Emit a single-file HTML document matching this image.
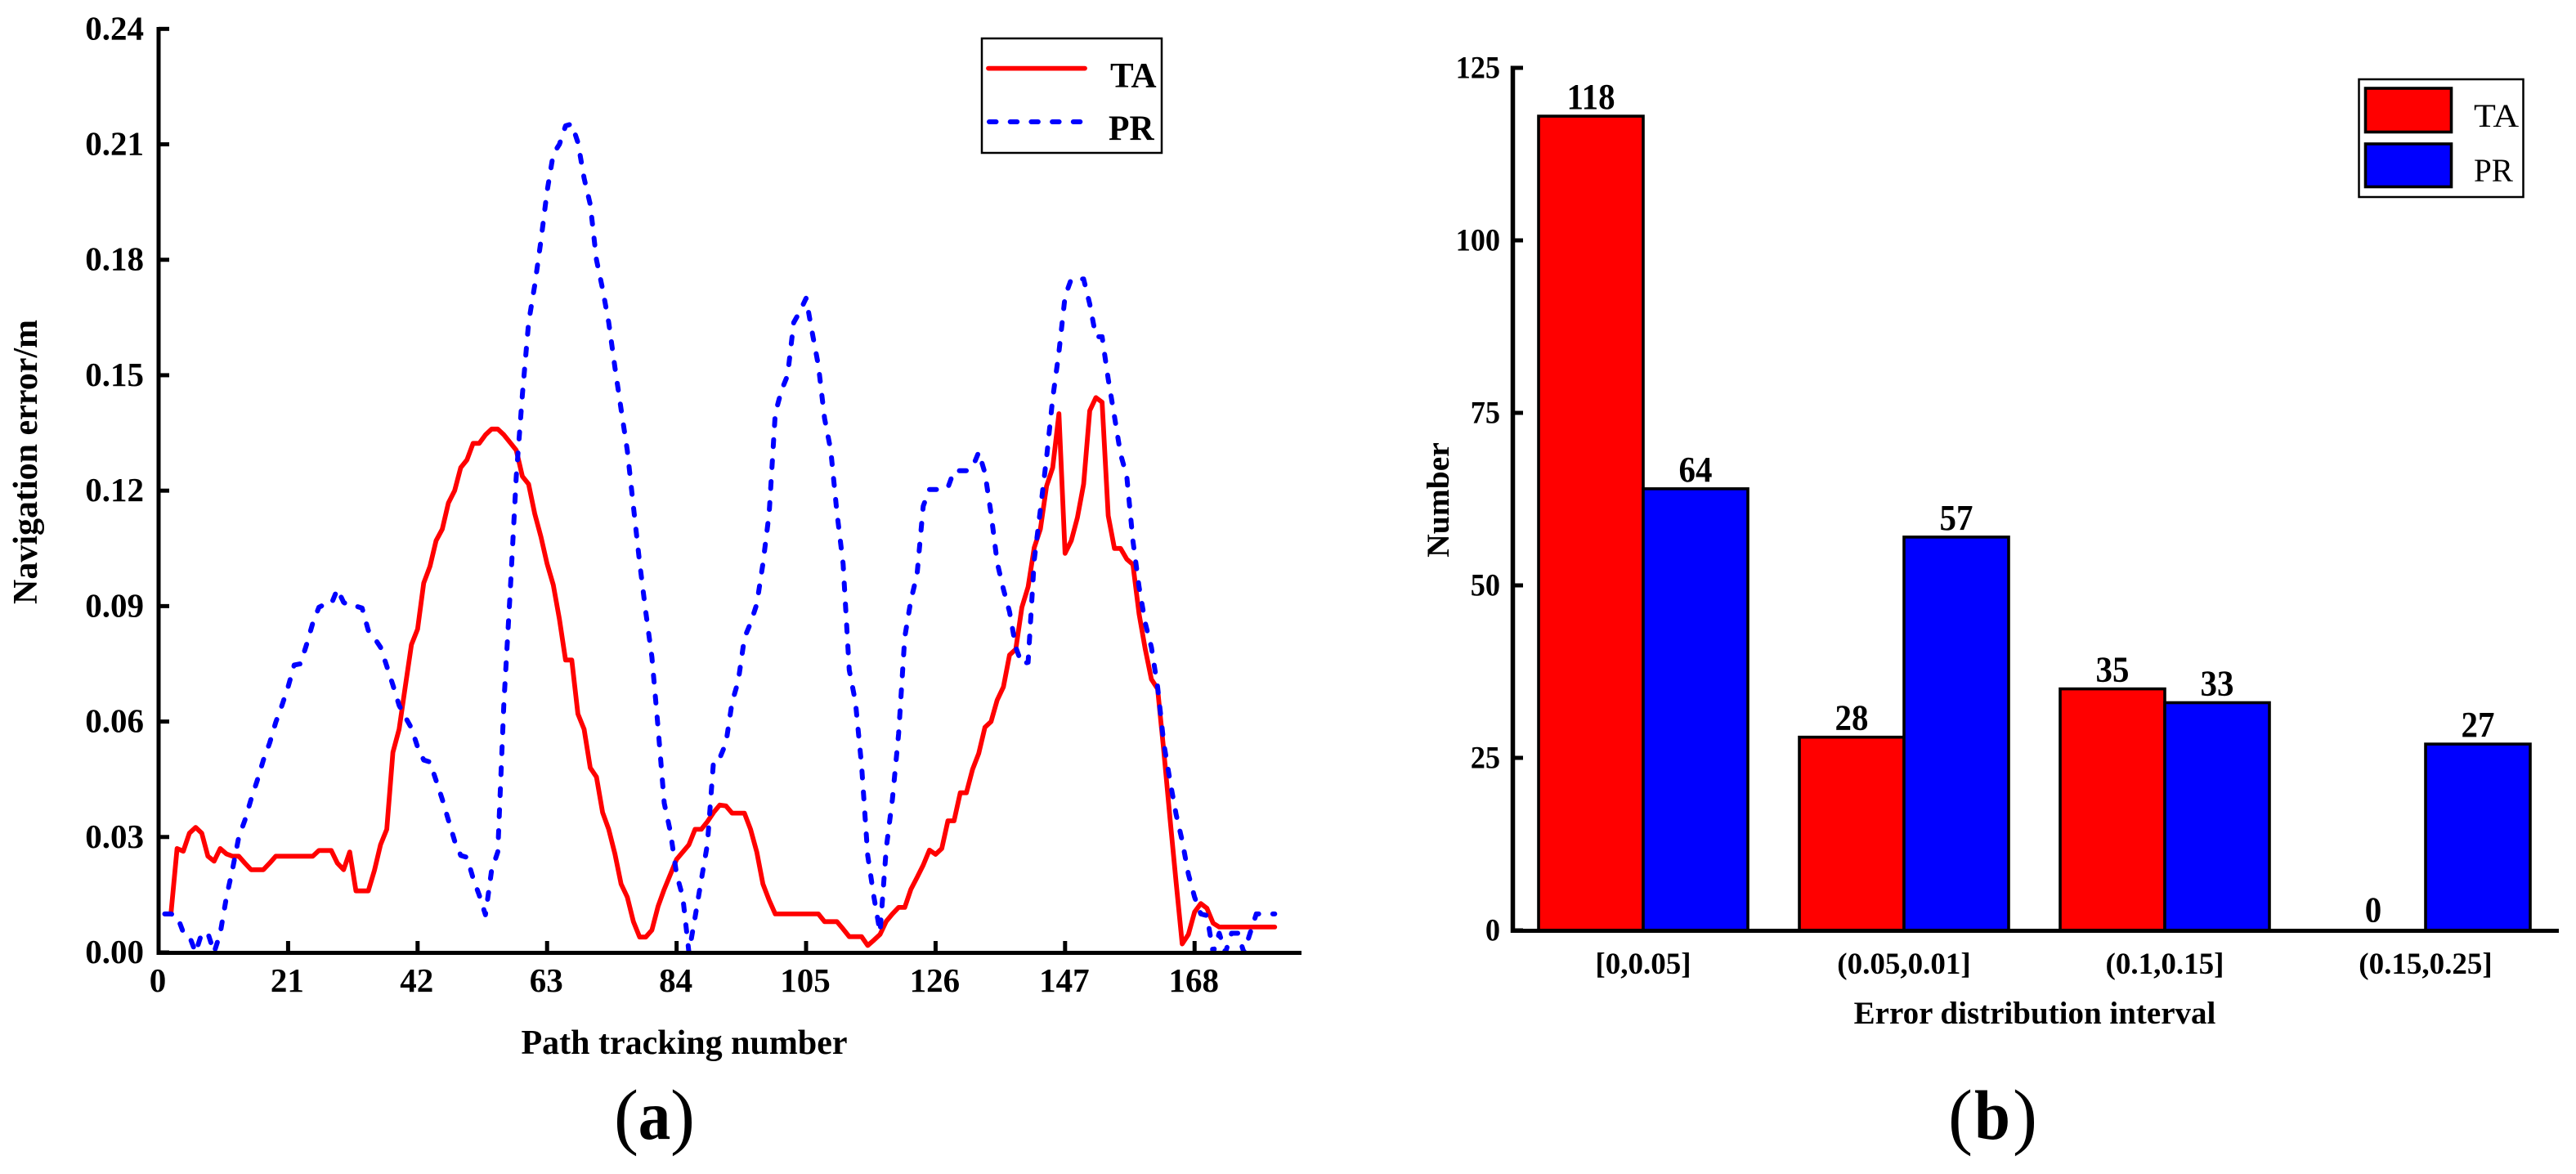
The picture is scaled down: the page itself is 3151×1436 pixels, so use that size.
<!DOCTYPE html>
<html lang="en">
<head>
<meta charset="utf-8">
<title>Navigation error and error distribution</title>
<style>
html,body{margin:0;padding:0;background:#fff;}
svg{display:block;}
text{font-family:"Liberation Serif",serif;fill:#000;}
</style>
</head>
<body>
<svg id="figure" xmlns="http://www.w3.org/2000/svg" width="3151" height="1436" viewBox="0 0 3151 1436"></svg>
<script>
/* Panel (a) data: index 1..181 */
const taValues = [
.010,.010,.027,.0263,.031,.0325,.031,.025,.0237,.027,
.0256,.025,.025,.0232,.0215,.0215,.0215,.0232,.025,.025,
.025,.025,.025,.025,.025,.0265,.0265,.0265,.0232,.0215,
.0261,.016,.016,.016,.0213,.028,.032,.052,.058,.069,
.080,.084,.096,.1003,.107,.110,.1168,.120,.126,.128,
.1323,.1323,.1345,.136,.136,.1345,.1325,.1305,.1237,.1217,
.114,.108,.101,.0955,.0866,.076,.076,.062,.058,.048,
.0456,.0364,.032,.0256,.0178,.0144,.008,.004,.004,.0058,
.012,.0164,.0203,.0242,.0261,.028,.032,.032,.034,.0364,
.0383,.0381,.0362,.0362,.0362,.032,.0261,.0178,.0136,.010,
.01,.01,.01,.01,.01,.01,.01,.008,.008,.008,
.0061,.0041,.0041,.0041,.0018,.0032,.0047,.0081,.01,.0117,
.0117,.0164,.0195,.0227,.0266,.0255,.027,.0342,.0342,.0415,
.0415,.0476,.0517,.0585,.06,.0656,.069,.0773,.0788,.0897,
.095,.1052,.11,.1212,.126,.14,.1037,.107,.113,.1217,
.1408,.1442,.143,.1135,.105,.105,.1022,.1008,.088,.0788,
.071,.0685,.0525,.035,.0183,.0022,.0047,.0105,.0127,.0115,
.0076,.0066,.0066,.0066,.0066,.0066,.0066,.0066,.0066,.0066,.0066
];
const prValues = [
.01,.01,.0095,.0052,.0042,0,.005,.005,0,.005,
.0144,.0217,.03,.0344,.0398,.0447,.05,.0544,.0598,.0642,
.069,.0747,.075,.08,.0856,.0897,.0905,.0905,.0944,.091,
.09,.09,.0895,.0837,.0817,.0793,.0744,.0695,.0642,.0612,
.0583,.0534,.05,.0495,.0447,.0398,.0344,.029,.0252,.0247,
.0193,.0149,.0098,.0213,.0261,.065,.0934,.1237,.145,.1637,
.1734,.185,.1978,.2075,.21,.2148,.2153,.2105,.2012,.1944,
.18,.1724,.1637,.152,.1412,.1305,.1159,.1013,.0885,.0768,
.0583,.0388,.0313,.0203,.0144,0,.0091,.0188,.0281,.05,
.0505,.0544,.065,.0705,.0817,.0856,.0905,.101,.114,.14,
.146,.15,.1637,.1666,.17,.161,.1525,.1388,.1305,.1144,
.101,.0734,.0651,.0486,.0252,.0144,.0052,.0271,.0398,.0568,
.0819,.0915,.0983,.116,.1203,.1203,.1203,.1208,.1252,.1252,
.1252,.1261,.13,.1246,.114,.1013,.0944,.0885,.0793,.0749,
.0754,.102,.115,.1286,.144,.156,.1705,.175,.175,.175,
.1685,.16,.16,.149,.1393,.1295,.1237,.107,.095,.0856,
.0793,.069,.0544,.0447,.0359,.029,.0203,.0144,.01,.0096,
0,.005,0,.005,.005,0,.005,.01,.01,.01,.01
];
const aXTicks = [0,21,42,63,84,105,126,147,168];
const aYTicks = ["0.00","0.03","0.06","0.09","0.12","0.15","0.18","0.21","0.24"];

/* Panel (b) data */
const bCategories = ["[0,0.05]","(0.05,0.01]","(0.1,0.15]","(0.15,0.25]"];
const bTA = [118,28,35,0];
const bPR = [64,57,33,27];
const bYTicks = [0,25,50,75,100,125];

const NS = "http://www.w3.org/2000/svg";
const svg = document.getElementById("figure");
function make(tag, attrs, parent){
  const el = document.createElementNS(NS, tag);
  for (const k in attrs) el.setAttribute(k, attrs[k]);
  (parent || svg).appendChild(el);
  return el;
}
function label(str, x, y, size, weight, anchor, sx, rotate, parent){
  const t = make("text", {
    "font-size": size, "font-weight": weight, "text-anchor": anchor,
    transform: "translate(" + x + "," + y + ")" + (rotate ? " rotate(" + rotate + ")" : "") + " scale(" + sx + ",1)"
  }, parent);
  t.textContent = str;
  return t;
}

/* ---------- Panel (a) ---------- */
const ax = v => 194 + v * 7.543;
const ay = v => 1165 - v * 4707;
const panelA = make("g", {});



const taPath = make("polyline", {
  points: taValues.map((v, i) => ax(i + 1).toFixed(1) + "," + ay(v).toFixed(1)).join(" "),
  fill: "none", stroke: "#ff0000", "stroke-width": 5.8, "stroke-linejoin": "round", "stroke-linecap": "round"
}, panelA);



const prPath = make("polyline", {
  points: prValues.map((v, i) => ax(i + 1).toFixed(1) + "," + ay(v).toFixed(1)).join(" "),
  fill: "none", stroke: "#0000ff", "stroke-width": 6, "stroke-dasharray": "8.5 17.2", "stroke-linejoin": "round", "stroke-linecap": "round"
}, panelA);



const aYAxis = make("line", {x1: 194, x2: 194, y1: 33, y2: 1168, stroke: "#000", "stroke-width": 5}, panelA);


const aXAxis = make("line", {x1: 192, x2: 1592, y1: 1165.5, y2: 1165.5, stroke: "#000", "stroke-width": 5}, panelA);



aYTicks.forEach(s => {
  const y = ay(parseFloat(s));
  const tick = make("line", {x1: 194, x2: 207, y1: y, y2: y, stroke: "#000", "stroke-width": 5}, panelA);
  
  
  const t = label(s, 176, y + 13, 41, "bold", "end", 1, 0, panelA);
  
  
});
aXTicks.forEach(v => {
  const x = ax(v);
  if (v > 0) {
    const tick = make("line", {x1: x, x2: x, y1: 1165, y2: 1151, stroke: "#000", "stroke-width": 5}, panelA);
    
    
  }
  const t = label(String(v), x - 1, 1213, 41, "bold", "middle", 1, 0, panelA);
  
  
});
const aXTitle = label("Path tracking number", 837, 1289, 42, "bold", "middle", 1, 0, panelA);


const aYTitle = label("Navigation error/m", 45, 565, 42, "bold", "middle", 1, -90, panelA);



const aLegend = make("g", {}, panelA);


const aLegendBox = make("rect", {x: 1201, y: 47, width: 220, height: 140, fill: "none", stroke: "#000", "stroke-width": 2.5}, aLegend);


const aLegendTA = make("line", {x1: 1209, x2: 1327, y1: 83.6, y2: 83.6, stroke: "#ff0000", "stroke-width": 5.8, "stroke-linecap": "round"}, aLegend);


const aLegendPR = make("line", {x1: 1210, x2: 1322, y1: 149, y2: 149, stroke: "#0000ff", "stroke-width": 6, "stroke-linecap": "round", "stroke-dasharray": "8.5 17.2"}, aLegend);


const aLegendTAText = label("TA", 1358, 106.5, 43, "bold", "start", 1, 0, aLegend);


const aLegendPRText = label("PR", 1356, 171, 43, "bold", "start", 0.97, 0, aLegend);



/* ---------- Panel (b) ---------- */
const by = v => 1138 - v * 8.44;
const groupX = i => 2010 + i * 319;
const barW = 128;
const panelB = make("g", {});



bCategories.forEach((c, i) => {
  const cx = groupX(i);
  if (bTA[i] > 0) {
    const r = make("rect", {x: cx - barW, y: by(bTA[i]), width: barW, height: by(0) - by(bTA[i]), fill: "#ff0000", stroke: "#000", "stroke-width": 3.6}, panelB);
    
    
  }
  const b = make("rect", {x: cx, y: by(bPR[i]), width: barW, height: by(0) - by(bPR[i]), fill: "#0000ff", stroke: "#000", "stroke-width": 3.6}, panelB);
  
  
  const v1 = label(String(bTA[i]), cx - barW / 2, by(bTA[i]) - (bTA[i] > 0 ? 9 : 10.5), 44, "bold", "middle", 0.93, 0, panelB);
  
  
  const v2 = label(String(bPR[i]), cx + barW / 2, by(bPR[i]) - 9, 44, "bold", "middle", 0.93, 0, panelB);
  
  
  const cat = label(c, cx, 1191, 37, "bold", "middle", 1, 0, panelB);
  
  
});

const bYAxis = make("line", {x1: 1850.5, x2: 1850.5, y1: 80.5, y2: 1141, stroke: "#000", "stroke-width": 5.5}, panelB);


const bXAxis = make("line", {x1: 1848, x2: 3130, y1: 1138.5, y2: 1138.5, stroke: "#000", "stroke-width": 5}, panelB);



bYTicks.forEach(v => {
  const y = by(v);
  const tick = make("line", {x1: 1850, x2: 1863, y1: y, y2: y, stroke: "#000", "stroke-width": 5}, panelB);
  
  
  const t = label(String(v), 1835, y + 12.5, 39, "bold", "end", 0.93, 0, panelB);
  
  
});
const bXTitle = label("Error distribution interval", 2489, 1252, 39, "bold", "middle", 1, 0, panelB);


const bYTitle = label("Number", 1772, 611.5, 39.6, "bold", "middle", 1, -90, panelB);



const bLegend = make("g", {}, panelB);


const bLegendBox = make("rect", {x: 2885.5, y: 97, width: 201, height: 144, fill: "none", stroke: "#000", "stroke-width": 2.5}, bLegend);


const bSwatchTA = make("rect", {x: 2893.5, y: 108, width: 105, height: 53.5, fill: "#ff0000", stroke: "#000", "stroke-width": 3.6}, bLegend);


const bSwatchPR = make("rect", {x: 2893.5, y: 176, width: 105, height: 52.5, fill: "#0000ff", stroke: "#000", "stroke-width": 3.6}, bLegend);


const bLegendTA = label("TA", 3026, 155, 40, "normal", "start", 1.1, 0, bLegend);


const bLegendPR = label("PR", 3026, 222, 40, "normal", "start", 0.98, 0, bLegend);



/* ---------- Panel captions ---------- */
function caption(letter, leftX, letterX, rightX){
  const g = make("g", {});
  const open = label("(", leftX, 1395, 90, "normal", "start", 1, 0, g);
  
  
  const mid = label(letter, letterX, 1393, 86, "bold", "middle", 0.92, 0, g);
  
  
  const close = label(")", rightX, 1395, 90, "normal", "start", 1, 0, g);
  
  
  return g;
}
const capA = caption("a", 751, 800.5, 820);


const capB = caption("b", 2383, 2437, 2462);


</script>
</body>
</html>
